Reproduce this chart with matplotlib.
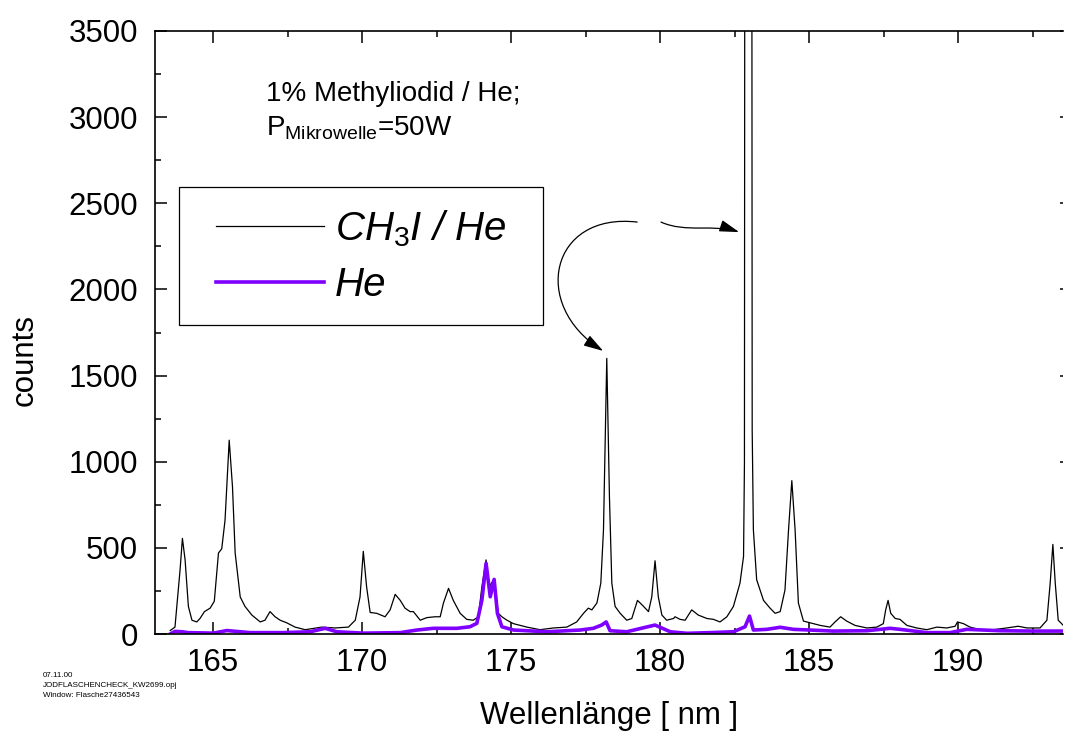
import numpy as np
import matplotlib
matplotlib.use("Agg")
import matplotlib.pyplot as plt
from matplotlib.patches import FancyArrowPatch
from matplotlib.path import Path
from matplotlib.lines import Line2D
from matplotlib.legend_handler import HandlerLine2D
from matplotlib.ticker import MultipleLocator

plt.rcParams["font.family"] = ["Liberation Sans", "DejaVu Sans"]
plt.rcParams["mathtext.fontset"] = "custom"
plt.rcParams["mathtext.rm"] = "Liberation Sans"
plt.rcParams["mathtext.it"] = "Liberation Sans:italic"

# === spectra: (wavelength nm, counts) ===
ch3i_spectrum = [
    (163.56, 20), (163.72, 40), (163.89, 370), (163.97, 555), (164.06, 430),
    (164.17, 160), (164.29, 80), (164.45, 70), (164.56, 90), (164.71, 130),
    (164.90, 150), (165.04, 190), (165.18, 470), (165.29, 495), (165.40, 660),
    (165.54, 1125), (165.65, 855), (165.74, 470), (165.91, 215), (166.07, 160),
    (166.30, 110), (166.58, 70), (166.74, 80), (166.91, 130), (167.08, 100),
    (167.25, 80), (167.47, 65), (167.75, 40), (168.09, 25), (168.65, 40),
    (169.09, 35), (169.54, 40), (169.77, 80), (169.93, 215), (170.04, 480),
    (170.15, 275), (170.27, 125), (170.49, 120), (170.77, 100), (170.94, 140),
    (171.11, 230), (171.28, 195), (171.44, 150), (171.61, 130), (171.72, 130),
    (171.95, 80), (172.17, 95), (172.45, 100), (172.62, 100), (172.73, 180),
    (172.90, 265), (173.06, 195), (173.29, 120), (173.51, 85), (173.73, 80),
    (173.90, 100), (174.02, 275), (174.16, 430), (174.27, 275), (174.43, 320),
    (174.57, 120), (174.69, 100), (174.86, 80), (175.08, 60), (175.53, 40),
    (175.97, 25), (176.42, 35), (176.87, 40), (177.20, 70), (177.43, 120),
    (177.59, 150), (177.71, 140), (177.88, 180), (178.01, 295), (178.10, 605),
    (178.21, 1600), (178.30, 795), (178.38, 295), (178.49, 160), (178.66, 120),
    (178.88, 80), (179.05, 90), (179.24, 195), (179.39, 170), (179.61, 130),
    (179.72, 215), (179.83, 425), (179.94, 215), (180.06, 110), (180.22, 80),
    (180.45, 90), (180.50, 100), (180.67, 85), (180.84, 80), (181.06, 140),
    (181.28, 110), (181.57, 90), (181.79, 85), (182.01, 70), (182.24, 100),
    (182.46, 160), (182.68, 295), (182.80, 450), (182.83, 990), (182.84, 3800),
    (183.08, 3800), (183.09, 1185), (183.13, 605), (183.24, 315), (183.47, 195),
    (183.69, 150), (183.86, 120), (184.03, 130), (184.19, 255), (184.31, 605),
    (184.42, 890), (184.53, 605), (184.64, 180), (184.81, 75), (185.03, 65),
    (185.37, 50), (185.70, 40), (185.87, 70), (186.06, 100), (186.26, 75),
    (186.54, 50), (186.94, 35), (187.27, 40), (187.49, 60), (187.57, 140),
    (187.65, 195), (187.74, 120), (187.89, 90), (188.05, 85), (188.28, 50),
    (188.61, 35), (188.95, 25), (189.29, 40), (189.62, 35), (189.90, 45),
    (189.98, 70), (190.18, 60), (190.40, 40), (190.74, 25), (191.18, 25),
    (191.63, 35), (192.02, 45), (192.31, 35), (192.75, 35), (192.98, 80),
    (193.09, 295), (193.18, 520), (193.26, 295), (193.36, 80), (193.53, 50),
]

he_spectrum = [
    (163.56, 0), (163.72, 15), (163.95, 13), (164.16, 8), (165.01, 5),
    (165.46, 20), (166.24, 8), (167.35, 8), (168.26, 13), (168.76, 33),
    (169.15, 13), (170.04, 5), (171.28, 8), (171.84, 23), (172.39, 33),
    (173.18, 33), (173.62, 42), (173.85, 62), (174.02, 197), (174.16, 410),
    (174.30, 216), (174.43, 317), (174.54, 120), (174.69, 42), (175.08, 23),
    (176.20, 13), (177.32, 23), (177.76, 33), (178.04, 52), (178.19, 70),
    (178.32, 19), (178.88, 13), (179.83, 52), (180.34, 13), (180.90, 4),
    (181.68, 8), (182.46, 13), (182.85, 42), (183.00, 104), (183.13, 23),
    (183.58, 27), (184.03, 39), (184.47, 27), (185.03, 23), (185.81, 17),
    (186.94, 19), (187.72, 33), (188.05, 27), (188.95, 8), (189.73, 8),
    (190.29, 27), (191.41, 19), (192.52, 17), (193.52, 17),
]

# curved arrows (data coords, cubic bezier control points)
arrow_178 = [(179.23, 2391), (176.31, 2449), (175.64, 1910), (178.09, 1643)]
arrow_183 = [(180.03, 2391), (180.84, 2327), (181.85, 2380), (182.65, 2333)]

ch3i = np.array(ch3i_spectrum)
he = np.array(he_spectrum)

fig = plt.figure(figsize=(10.66, 7.31), dpi=100)
ax = fig.add_axes([155 / 1066, 97 / 731, 908 / 1066, 603 / 731])

ax.plot(ch3i[:, 0], ch3i[:, 1], color="black", lw=0.9, label=r"$\mathit{CH_3I}$ / He")
ax.plot(he[:, 0], he[:, 1], color="#8000ff", lw=2.6, label="He")

ax.set_xlim(163.05, 193.52)
ax.set_ylim(0, 3500)
ax.xaxis.set_major_locator(MultipleLocator(5))
ax.xaxis.set_minor_locator(MultipleLocator(2.5))
ax.yaxis.set_major_locator(MultipleLocator(500))
ax.yaxis.set_minor_locator(MultipleLocator(250))
ax.tick_params(which="both", direction="in", top=True, right=False, width=1.1, labelsize=22.5)
ax.tick_params(which="major", length=8.6)
ax.tick_params(which="minor", length=4.5)
ax.tick_params(axis="x", pad=10)
ax.tick_params(axis="y", pad=12)
for s in ["left", "bottom", "top"]:
    ax.spines[s].set_linewidth(1.2)
ax.spines["right"].set_visible(False)

# short major ticks on the right side
axr = ax.twinx()
axr.set_ylim(ax.get_ylim())
axr.yaxis.set_major_locator(MultipleLocator(500))
axr.tick_params(direction="in", length=2.5, width=1.1, labelright=False)
for s in axr.spines.values():
    s.set_visible(False)

ax.set_xlabel("Wellenlänge [ nm ]", fontsize=22.5, labelpad=16.5)
ax.set_ylabel("counts", fontsize=22.5)
ax.yaxis.set_label_coords(-0.127, 0.454)

ax.text(0.122, 0.884, "1% Methyliodid / He;", transform=ax.transAxes,
        fontsize=20, va="baseline")
ax.text(0.122, 0.8275, r"P$_{\mathrm{Mikrowelle}}$=50W", transform=ax.transAxes,
        fontsize=20, va="baseline")

leg = ax.legend(loc="upper left", bbox_to_anchor=(0.0264, 0.5, 0.4009, 0.241),
                mode="expand", borderaxespad=0,
                prop={"family": "Liberation Sans", "style": "italic", "size": 29},
                frameon=True, fancybox=False, edgecolor="black", framealpha=1,
                borderpad=0.52, handlelength=3.07, handletextpad=0.28,
                labelspacing=0.44,
                handler_map={Line2D: HandlerLine2D(xpad=0.4)})
leg.get_frame().set_linewidth(0.9)

codes = [Path.MOVETO, Path.CURVE4, Path.CURVE4, Path.CURVE4]
for pts in (arrow_178, arrow_183):
    arr = FancyArrowPatch(path=Path(pts, codes),
                          arrowstyle="-|>,head_length=0.6,head_width=0.18",
                          mutation_scale=20, lw=0.9, color="black",
                          transform=ax.transData)
    ax.add_patch(arr)

fig.text(43 / 1066, 0.0807, "07.11.00\nJODFLASCHENCHECK_KW2699.opj\nWindow: Flasche27436543",
         fontsize=5.8, va="top", linespacing=1.55)

fig.savefig("out.png", dpi=100)
